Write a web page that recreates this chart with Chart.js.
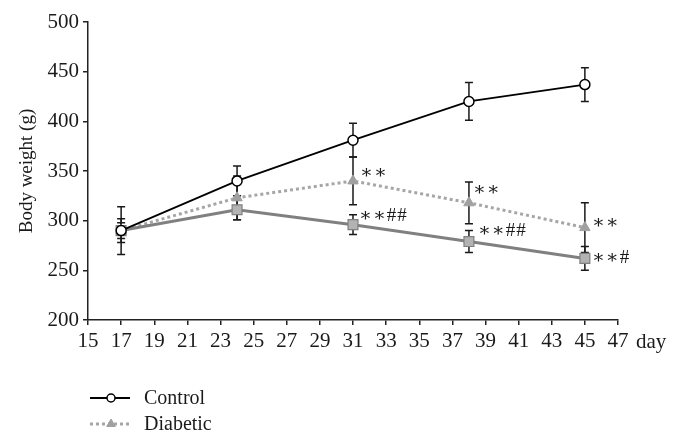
<!DOCTYPE html>
<html>
<head>
<meta charset="utf-8">
<script src="https://cdn.jsdelivr.net/npm/chart.js@4"></script>
<style>
  html, body { margin: 0; padding: 0; background: #fff; }
  #wrap { width: 682px; height: 446px; }
</style>
</head>
<body>
<div id="wrap"><canvas id="myChart" width="682" height="446"></canvas></div>
<script>
const days = [17, 24, 31, 38, 45];
const control = [290, 340, 381, 420, 437];
const controlErr = [12, 15, 17, 19, 17];
const diabetic = [290, 323, 340, 318, 293];
const diabeticErr = [24, 22, 24, 21, 25];
const treated = [290, 311, 296, 279, 262];
const treatedErr = [8, 10, 10, 11, 12];
const diabeticMarks = ["", "", "∗∗", "∗∗", "∗∗"];
const treatedMarks = ["", "", "∗∗##", "∗∗##", "∗∗#"];
const seriesNames = ["Control", "Diabetic", "Diabetic + treatment"];

const serif = "'Liberation Serif', 'DejaVu Serif', serif";
const pts = (ys) => days.map((d, i) => ({ x: d, y: ys[i] }));

// error bars, drawn under the markers
const errorBars = {
  id: "errorBars",
  beforeDatasetsDraw(chart) {
    const { ctx, scales: { x, y } } = chart;
    const errs = [controlErr, diabeticErr, treatedErr];
    ctx.save();
    ctx.strokeStyle = "#1a1a1a";
    ctx.lineWidth = 1.5;
    chart.data.datasets.forEach((ds, k) => {
      ds.data.forEach((p, i) => {
        const px = x.getPixelForValue(p.x);
        const top = y.getPixelForValue(p.y + errs[k][i]);
        const bot = y.getPixelForValue(p.y - errs[k][i]);
        ctx.beginPath();
        ctx.moveTo(px, top); ctx.lineTo(px, bot);
        ctx.moveTo(px - 4, top); ctx.lineTo(px + 4, top);
        ctx.moveTo(px - 4, bot); ctx.lineTo(px + 4, bot);
        ctx.stroke();
      });
    });
    ctx.restore();
  }
};

// significance marks, "day" label and the stacked legend
const extras = {
  id: "extras",
  afterDraw(chart) {
    const { ctx, scales: { x, y } } = chart;
    ctx.save();
    ctx.fillStyle = "#1a1a1a";
    ctx.font = "19px " + serif;
    ctx.textBaseline = "middle";
    ctx.textAlign = "left";
    ctx.letterSpacing = "1px";
    const offD = [[0, 0], [0, 0], [7, -8], [4, -13], [7, -5]];
    const offT = [[0, 0], [0, 0], [6, -9], [9, -11], [7, 0]];
    days.forEach((d, i) => {
      const px = x.getPixelForValue(d);
      if (diabeticMarks[i]) ctx.fillText(diabeticMarks[i], px + offD[i][0], y.getPixelForValue(diabetic[i]) + offD[i][1]);
      if (treatedMarks[i]) ctx.fillText(treatedMarks[i], px + offT[i][0], y.getPixelForValue(treated[i]) + offT[i][1]);
    });
    ctx.letterSpacing = "0px";

    ctx.font = "21px " + serif;
    ctx.textBaseline = "top";
    ctx.fillText("day", x.right + 18, x.top + 12);

    // legend (the source picture is cropped through the second row)
    ctx.beginPath();
    ctx.rect(0, 370, chart.width, 62);
    ctx.clip();
    ctx.font = "20px " + serif;
    ctx.textBaseline = "middle";
    chart.data.datasets.forEach((ds, i) => {
      const ly = 398 + i * 26;
      ctx.save();
      ctx.strokeStyle = ds.borderColor;
      ctx.lineWidth = ds.borderWidth;
      ctx.setLineDash(ds.borderDash || []);
      ctx.beginPath();
      ctx.moveTo(90, ly); ctx.lineTo(130, ly);
      ctx.stroke();
      ctx.restore();
      ctx.fillStyle = ds.pointBackgroundColor;
      ctx.strokeStyle = ds.pointBorderColor;
      ctx.lineWidth = ds.pointBorderWidth;
      Chart.helpers.drawPoint(ctx, {
        pointStyle: ds.pointStyle,
        radius: ds.pointRadius - 1,
        borderWidth: ds.pointBorderWidth
      }, 111, ly);
      ctx.fillStyle = "#1a1a1a";
      ctx.fillText(ds.label, 144, ly + 1);
    });
    ctx.restore();
  }
};

new Chart("myChart", {
  type: "line",
  data: {
    datasets: [
      {
        label: seriesNames[0],
        data: pts(control),
        borderColor: "#000",
        borderWidth: 1.8,
        pointStyle: "circle",
        pointRadius: 5,
        pointBackgroundColor: "#fff",
        pointBorderColor: "#000",
        pointBorderWidth: 1.5,
        order: 1,
      },
      {
        label: seriesNames[1],
        data: pts(diabetic),
        borderColor: "#a6a6a6",
        borderWidth: 3,
        borderDash: [3, 3],
        pointStyle: "triangle",
        pointRadius: 6,
        pointBackgroundColor: "#a0a0a0",
        pointBorderColor: "#a0a0a0",
        pointBorderWidth: 1,
        order: 3,
      },
      {
        label: seriesNames[2],
        data: pts(treated),
        borderColor: "#808080",
        borderWidth: 3,
        pointStyle: "rect",
        pointRadius: 7,
        pointBackgroundColor: "#b3b3b3",
        pointBorderColor: "#808080",
        pointBorderWidth: 1.2,
        order: 2,
      },
    ],
  },
  options: {
    responsive: false,
    animation: false,
    layout: { padding: { left: 0, right: 64, top: 22, bottom: 86 } },
    plugins: { legend: { display: false }, tooltip: { enabled: false } },
    scales: {
      x: {
        type: "linear",
        min: 15,
        max: 47,
        afterFit: (s) => { s.height = 40; },
        border: { color: "#222", width: 1.5 },
        grid: { display: true, drawOnChartArea: false, drawTicks: true, tickLength: 5, color: "#222", lineWidth: 1.5 },
        ticks: { stepSize: 2, color: "#1a1a1a", padding: 4, maxRotation: 0, autoSkip: false, font: { family: serif, size: 21 } },
      },
      y: {
        min: 200,
        max: 500,
        afterFit: (s) => { s.width = 88; },
        border: { color: "#222", width: 1.5 },
        grid: { display: true, drawOnChartArea: false, drawTicks: true, tickLength: 5, color: "#222", lineWidth: 1.5 },
        ticks: { stepSize: 50, color: "#1a1a1a", padding: 4, font: { family: serif, size: 21 } },
        title: { display: true, text: "Body weight (g)", color: "#1a1a1a", padding: { top: 16, bottom: 0 }, font: { family: serif, size: 19 } },
      },
    },
  },
  plugins: [errorBars, extras],
});
</script>
</body>
</html>
